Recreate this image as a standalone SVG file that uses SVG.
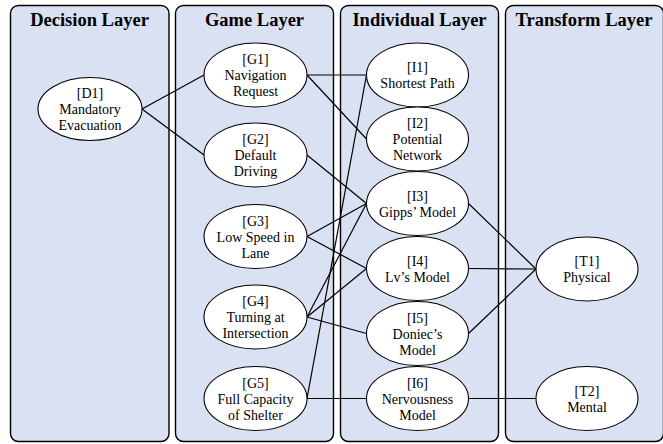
<svg xmlns="http://www.w3.org/2000/svg" width="663" height="444" viewBox="0 0 663 444">
<style>
.panel{fill:#dae1f3;stroke:#000;stroke-width:1.4}
.title{font-family:"Liberation Serif","Times New Roman",serif;font-weight:bold;font-size:18.5px;text-anchor:middle;fill:#000}
.node ellipse{fill:#fff;stroke:#000;stroke-width:1.1}
.node text{font-family:"Liberation Serif","Times New Roman",serif;font-size:14px;text-anchor:middle;fill:#000}
#connectors line{stroke:#000;stroke-width:1.2}
</style>
<rect width="663" height="444" fill="#fff"/>
<g id="panels">
<rect class="panel" x="10.5" y="5.5" width="158.5" height="436" rx="8"/>
<rect class="panel" x="175.5" y="5.5" width="158" height="436" rx="8"/>
<rect class="panel" x="340.5" y="5.5" width="158" height="436" rx="8"/>
<rect class="panel" x="505.5" y="5.5" width="158" height="436" rx="8"/>
<text class="title" x="89.5" y="26">Decision Layer</text>
<text class="title" x="254.5" y="26">Game Layer</text>
<text class="title" x="419.5" y="26">Individual Layer</text>
<text class="title" x="584" y="26">Transform Layer</text>
</g>
<g id="connectors">
<line x1="142" y1="109" x2="204" y2="75"/>
<line x1="142" y1="109" x2="204" y2="155"/>
<line x1="307" y1="75" x2="366.5" y2="75"/>
<line x1="307" y1="75" x2="366.5" y2="139"/>
<line x1="307" y1="155" x2="366.5" y2="203.5"/>
<line x1="307" y1="236.5" x2="366.5" y2="203.5"/>
<line x1="307" y1="236.5" x2="366.5" y2="268.5"/>
<line x1="307" y1="317" x2="366.5" y2="203.5"/>
<line x1="307" y1="317" x2="366.5" y2="268.5"/>
<line x1="307" y1="317" x2="366.5" y2="333.5"/>
<line x1="307" y1="398.5" x2="366.5" y2="75"/>
<line x1="307" y1="398.5" x2="366.5" y2="398.5"/>
<line x1="468.5" y1="203.5" x2="536" y2="269"/>
<line x1="468.5" y1="268.5" x2="536" y2="269"/>
<line x1="468.5" y1="333.5" x2="536" y2="269"/>
<line x1="468.5" y1="398.5" x2="536" y2="398.5"/>
</g>
<g id="D1" class="node"><ellipse cx="90" cy="109" rx="52" ry="31.5"/><text x="90" y="98">[D1]</text><text x="90" y="114">Mandatory</text><text x="90" y="130">Evacuation</text></g>
<g id="G1" class="node"><ellipse cx="255.5" cy="75" rx="51.5" ry="32"/><text x="255.5" y="64">[G1]</text><text x="255.5" y="80">Navigation</text><text x="255.5" y="96">Request</text></g>
<g id="G2" class="node"><ellipse cx="255.5" cy="155" rx="51.5" ry="32"/><text x="255.5" y="144">[G2]</text><text x="255.5" y="160">Default</text><text x="255.5" y="176">Driving</text></g>
<g id="G3" class="node"><ellipse cx="255.5" cy="236.5" rx="51.5" ry="32"/><text x="255.5" y="225.5">[G3]</text><text x="255.5" y="241.5">Low Speed in</text><text x="255.5" y="257.5">Lane</text></g>
<g id="G4" class="node"><ellipse cx="255.5" cy="317" rx="51.5" ry="32"/><text x="255.5" y="306">[G4]</text><text x="255.5" y="322">Turning at</text><text x="255.5" y="338">Intersection</text></g>
<g id="G5" class="node"><ellipse cx="255.5" cy="398.5" rx="51.5" ry="32"/><text x="255.5" y="387.5">[G5]</text><text x="255.5" y="403.5">Full Capacity</text><text x="255.5" y="419.5">of Shelter</text></g>
<g id="I1" class="node"><ellipse cx="417.5" cy="75" rx="51" ry="32"/><text x="417.5" y="72">[I1]</text><text x="417.5" y="88">Shortest Path</text></g>
<g id="I2" class="node"><ellipse cx="417.5" cy="139" rx="51" ry="32"/><text x="417.5" y="128">[I2]</text><text x="417.5" y="144">Potential</text><text x="417.5" y="160">Network</text></g>
<g id="I3" class="node"><ellipse cx="417.5" cy="203.5" rx="51" ry="32"/><text x="417.5" y="200.5">[I3]</text><text x="417.5" y="216.5">Gipps’ Model</text></g>
<g id="I4" class="node"><ellipse cx="417.5" cy="268.5" rx="51" ry="32"/><text x="417.5" y="265.5">[I4]</text><text x="417.5" y="281.5">Lv’s Model</text></g>
<g id="I5" class="node"><ellipse cx="417.5" cy="333.5" rx="51" ry="32"/><text x="417.5" y="322.5">[I5]</text><text x="417.5" y="338.5">Doniec’s</text><text x="417.5" y="354.5">Model</text></g>
<g id="I6" class="node"><ellipse cx="417.5" cy="398.5" rx="51" ry="32"/><text x="417.5" y="387.5">[I6]</text><text x="417.5" y="403.5">Nervousness</text><text x="417.5" y="419.5">Model</text></g>
<g id="T1" class="node"><ellipse cx="587" cy="269" rx="51" ry="32"/><text x="587" y="266">[T1]</text><text x="587" y="282">Physical</text></g>
<g id="T2" class="node"><ellipse cx="587" cy="398.5" rx="51" ry="32"/><text x="587" y="395.5">[T2]</text><text x="587" y="411.5">Mental</text></g>
</svg>
